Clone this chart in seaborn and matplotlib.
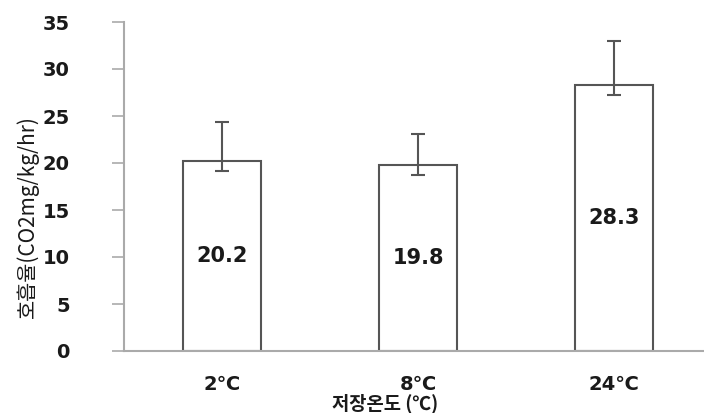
import matplotlib
matplotlib.use("Agg")
import matplotlib.pyplot as plt
import seaborn as sns
import numpy as np
import pandas as pd

categories = ["2℃", "8℃", "24℃"]
values = [20.2, 19.8, 28.3]
err_low = [19.2, 18.7, 27.2]
err_high = [24.4, 23.1, 33.0]
y_ticks = [0, 5, 10, 15, 20, 25, 30, 35]

sns.set_style("white")
plt.rcParams['font.family'] = ['DejaVu Sans', 'Noto Sans CJK KR']

df = pd.DataFrame({"cat": categories, "val": values})

fig = plt.figure(figsize=(7.04, 4.13), dpi=100)
ax = fig.add_axes([124/704, 62/413, 588/704, 329/413])

sns.barplot(data=df, x="cat", y="val", color="white", edgecolor="#555555",
            linewidth=1.5, width=0.4, ax=ax, errorbar=None, saturation=1)

x = np.arange(len(values))
vals = np.array(values)
yerr = np.array([vals - np.array(err_low), np.array(err_high) - vals])
ax.errorbar(x, vals, yerr=yerr, fmt="none", ecolor="#555555", elinewidth=1.5,
            capsize=5, capthick=1.5)

for xi, v in zip(x, values):
    ax.text(xi, v / 2, f"{v:.1f}", ha="center", va="center",
            fontsize=15, fontweight="bold", color="#1a1a1a", family="DejaVu Sans")

ax.set_xlim(-0.5, 2.5)
ax.set_ylim(0, 35)
ax.set_yticks(y_ticks)
ax.set_yticklabels([str(t) for t in y_ticks], fontsize=14, fontweight="bold",
                   color="#1a1a1a", family="DejaVu Sans")
ax.set_xticks(x)
ax.set_xticklabels(categories, fontsize=14, fontweight="bold", color="#1a1a1a",
                   family="DejaVu Sans")
ax.set_xticks([-0.5, 0.5, 1.5, 2.5], minor=True)
ax.tick_params(axis="x", which="major", length=0, pad=17)
ax.tick_params(axis="x", which="minor", length=7, width=1.2, color="#aaaaaa", direction="out")
ax.tick_params(axis="y", which="major", length=9, width=1.2, color="#aaaaaa", direction="out", pad=30, left=True)

for s in ["top", "right"]:
    ax.spines[s].set_visible(False)
for s in ["left", "bottom"]:
    ax.spines[s].set_color("#aaaaaa")
    ax.spines[s].set_linewidth(1.5)

ax.set_xlabel("")
ax.set_ylabel("호흡율(CO2mg/kg/hr)", fontsize=15, family=['Noto Sans CJK KR'],
              fontweight="medium", color="#1a1a1a")
ax.yaxis.set_label_coords(-0.145, 0.41)
fig.text(385/704, 1 - 413/413, "저장온도 (℃)", ha="center", va="bottom", fontsize=13.5,
         fontweight="bold", family=['Noto Sans CJK KR', 'DejaVu Sans'], color="#1a1a1a")

fig.savefig("out.png", dpi=100)
